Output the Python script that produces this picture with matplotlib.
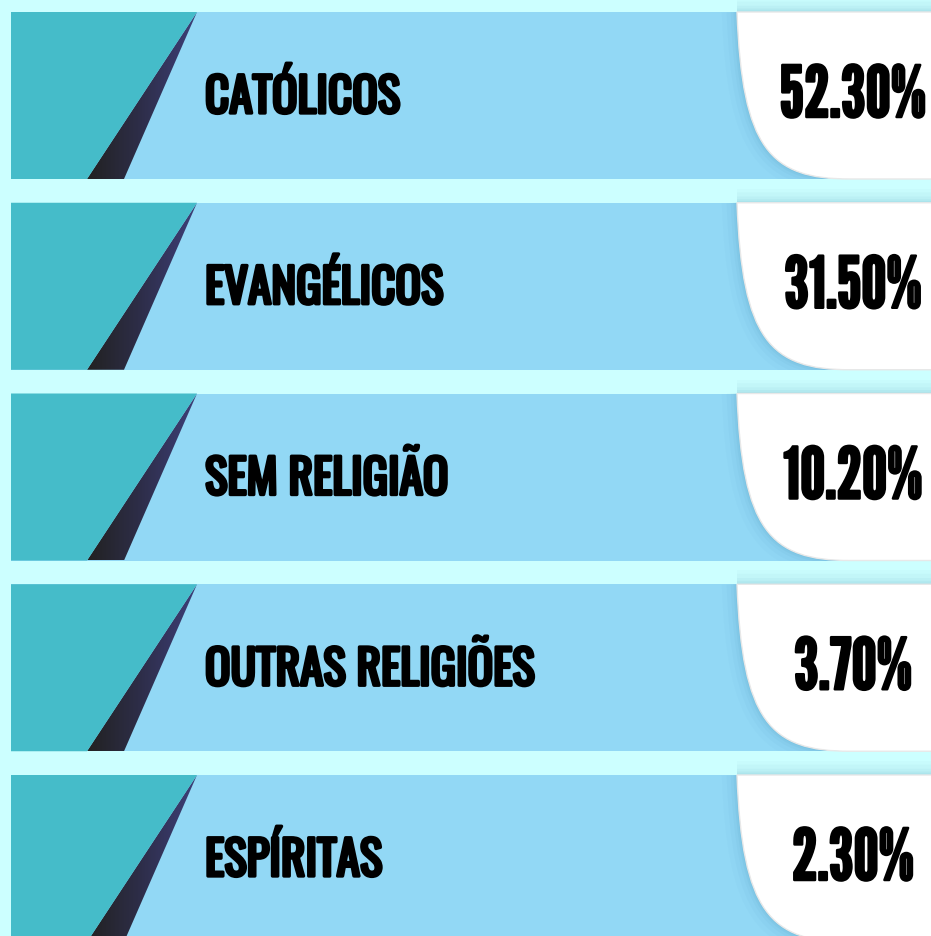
import numpy as np
import matplotlib

matplotlib.use("Agg")
import matplotlib.pyplot as plt  # noqa: E402
import matplotlib.patheffects as pe  # noqa: E402
from matplotlib.path import Path  # noqa: E402
from matplotlib.patches import PathPatch, Polygon, Rectangle  # noqa: E402
from matplotlib.colors import LinearSegmentedColormap  # noqa: E402

# data
categories = ["CATÓLICOS", "EVANGÉLICOS", "SEM RELIGIÃO", "OUTRAS RELIGIÕES", "ESPÍRITAS"]
shares = [52.30, 31.50, 10.20, 3.70, 2.30]

BG = "#ccffff"
BAND = "#92d8f5"
TEAL = "#45bcc9"
LABEL_FONT = ["Oswald", "Bebas Neue", "DejaVu Sans"]
VALUE_FONT = ["League Gothic", "DejaVu Sans"]

W, H = 931, 936
fig = plt.figure(figsize=(W / 100, H / 100), dpi=100)
fig.patch.set_facecolor(BG)
ax = fig.add_axes([0, 0, 1, 1])
ax.set_xlim(0, W)
ax.set_ylim(H, 0)
ax.axis("off")

shadow_cmap = LinearSegmentedColormap.from_list("sh", ["#222222", "#2e2e4a", "#3d3f78"])
grad = np.linspace(0, 1, 64).reshape(1, -1)

top0, pitch, band_h = 12, 190.75, 167
for i, (cat, val) in enumerate(zip(categories, shares)):
    top = top0 + i * pitch
    bot = top + band_h

    ax.add_patch(Rectangle((11, top), W - 11, band_h, facecolor=BAND, edgecolor="none", zorder=1))

    # teal wedge + dark shadow
    ax.add_patch(Polygon([(11, top), (197, top), (87, bot), (11, bot)],
                         closed=True, facecolor=TEAL, edgecolor="none", zorder=3))
    tri = Polygon([(197, top), (87, bot), (124, bot)], closed=True,
                  facecolor="none", edgecolor="none", zorder=2)
    ax.add_patch(tri)
    im = ax.imshow(grad, cmap=shadow_cmap, extent=(87, 197, bot, top),
                   aspect="auto", zorder=2, interpolation="bicubic")
    im.set_clip_path(tri)

    # white value box with rounded lower-left edge
    verts = [(737, top), (742, bot - 30), (770, bot), (850, bot),
             (W + 5, bot), (W + 5, top), (737, top)]
    codes = [Path.MOVETO, Path.CURVE4, Path.CURVE4, Path.CURVE4,
             Path.LINETO, Path.LINETO, Path.CLOSEPOLY]
    box_path = Path(verts, codes)
    clip = Rectangle((0, top - 14), W, band_h + 14, transform=ax.transData)
    for lw, a in [(22, 0.025), (15, 0.035), (9, 0.045), (5, 0.06), (2, 0.08)]:
        glow = PathPatch(box_path, facecolor="none", edgecolor="#2f7fa6",
                         linewidth=lw, alpha=a, zorder=4, joinstyle="round")
        ax.add_patch(glow)
        glow.set_clip_path(clip)
    ax.add_patch(PathPatch(box_path, facecolor="white", edgecolor="#e8e8e8",
                           linewidth=1.0, zorder=5))

    ax.text(205, top + 101, cat, fontsize=34, family=LABEL_FONT,
            color="black", ha="left", va="baseline", zorder=6,
            path_effects=[pe.withStroke(linewidth=2.4, foreground="black")])
    ax.text(853, top + 105, f"{val:.2f}%", fontsize=51, family=VALUE_FONT,
            color="black", ha="center", va="baseline", zorder=6,
            path_effects=[pe.withStroke(linewidth=1.8, foreground="black")])

fig.savefig("out.png", dpi=100, facecolor=BG)
